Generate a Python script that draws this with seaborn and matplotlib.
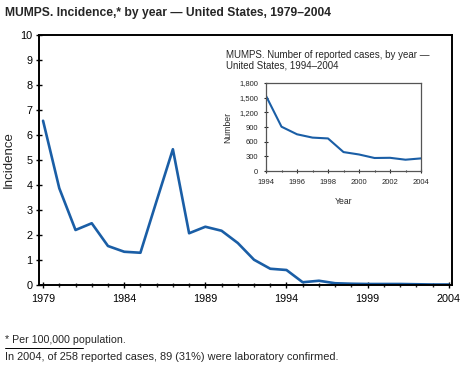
import matplotlib
matplotlib.use("Agg")
import matplotlib.pyplot as plt
import seaborn as sns
import pandas as pd
import numpy as np
from matplotlib.ticker import MultipleLocator, FuncFormatter

# Main series: incidence per 100,000 population
years = list(range(1979, 2005))
incidence = [6.57, 3.87, 2.20, 2.47, 1.56, 1.33, 1.29, 3.37, 5.43, 2.07,
             2.33, 2.17, 1.68, 1.01, 0.65, 0.60, 0.11, 0.17, 0.07, 0.05,
             0.04, 0.04, 0.04, 0.03, 0.02, 0.02]
main_xticks = [1979, 1984, 1989, 1994, 1999, 2004]

# Inset series: number of reported cases
inset_years = list(range(1994, 2005))
inset_cases = [1537, 906, 751, 683, 666, 387, 338, 266, 270, 231, 258]
inset_xticks = [1994, 1996, 1998, 2000, 2002, 2004]
inset_yticks = [0, 300, 600, 900, 1200, 1500, 1800]

sns.set_style("ticks")
plt.rcParams['font.family'] = ['Liberation Sans', 'DejaVu Sans']

blue = "#1a5ea6"
W, H = 469, 369
fig = plt.figure(figsize=(W / 100, H / 100), dpi=100)

# Main axes
ax = fig.add_axes([39 / W, (H - 285) / H, (452 - 39) / W, (285 - 35) / H])
df = pd.DataFrame({"Year": years, "Incidence": incidence})
sns.lineplot(data=df, x="Year", y="Incidence", ax=ax, color=blue, linewidth=1.9)
ax.set_xlim(1978.75, 2004.2)
ax.set_ylim(0, 10)
ax.set_xticks(main_xticks)
ax.xaxis.set_minor_locator(MultipleLocator(1))
ax.yaxis.set_major_locator(MultipleLocator(1))
ax.tick_params(axis="x", which="major", direction="inout", length=5, width=1,
               labelsize=7.8, pad=4, colors="black")
ax.tick_params(axis="y", which="major", direction="inout", length=5, width=1,
               labelsize=7.8, pad=2, colors="black")
ax.tick_params(axis="x", which="minor", direction="inout", length=3.5, width=1)
ax.set_xlabel("")
ax.set_ylabel("Incidence", fontsize=9.5, labelpad=4)
for s in ax.spines.values():
    s.set_visible(True)
    s.set_linewidth(1.4)
    s.set_color("black")

# Inset axes
axi = fig.add_axes([266 / W, (H - 171) / H, (421 - 266) / W, (171 - 83) / H])
dfi = pd.DataFrame({"Year": inset_years, "Number": inset_cases})
sns.lineplot(data=dfi, x="Year", y="Number", ax=axi, color=blue, linewidth=1.5)
axi.set_xlim(1994, 2004)
axi.set_ylim(0, 1800)
axi.set_xticks(inset_xticks)
axi.set_yticks(inset_yticks)
axi.xaxis.set_minor_locator(MultipleLocator(1))
axi.yaxis.set_major_formatter(FuncFormatter(lambda v, p: f"{int(v):,}"))
axi.tick_params(axis="x", which="major", direction="inout", length=3, width=0.8,
                labelsize=5.5, pad=4)
axi.tick_params(axis="y", which="major", direction="inout", length=3, width=0.8,
                labelsize=5.5, pad=4)
axi.tick_params(axis="x", which="minor", direction="inout", length=2, width=0.8)
axi.set_xlabel("Year", fontsize=6.2, labelpad=8)
axi.set_ylabel("Number", fontsize=6.2, labelpad=5)
for s in axi.spines.values():
    s.set_visible(True)
    s.set_linewidth(0.9)
    s.set_color("#555555")

fig.text(226 / W, 1 - 50 / H,
         "MUMPS. Number of reported cases, by year —\nUnited States, 1994–2004",
         fontsize=7, va="top", ha="left", linespacing=1.1)

# Titles and footnotes
fig.text(5 / W, 1 - 13 / H, "MUMPS. Incidence,* by year — United States, 1979–2004",
         fontsize=8.7, fontweight="bold", va="center", ha="left")
fig.text(5 / W, 1 - 340 / H, "* Per 100,000 population.", fontsize=7.7, va="center", ha="left")
fig.add_artist(plt.Line2D([5 / W, 83 / W], [1 - 348 / H, 1 - 348 / H],
                          color="black", linewidth=0.7, transform=fig.transFigure))
fig.text(5 / W, 1 - 357 / H,
         "In 2004, of 258 reported cases, 89 (31%) were laboratory confirmed.",
         fontsize=7.9, va="center", ha="left")

fig.savefig("out.png", dpi=100)
